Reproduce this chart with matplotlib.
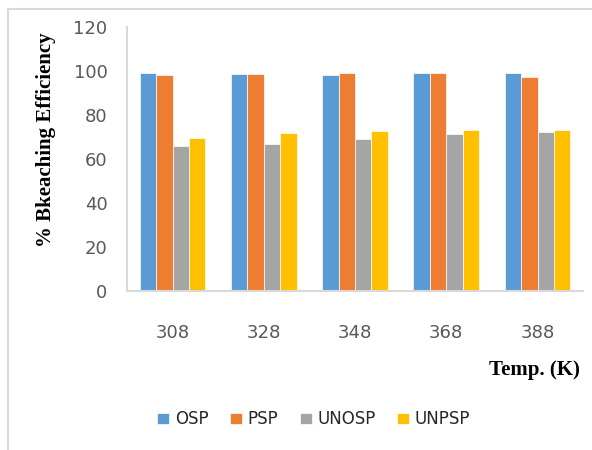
import matplotlib
matplotlib.use("Agg")
import matplotlib.pyplot as plt
import numpy as np
from matplotlib.lines import Line2D

# Bleaching efficiency (%) by temperature for each sample
temps = ["308", "328", "348", "368", "388"]
osp = [99.0, 98.6, 98.3, 99.2, 99.1]
psp = [98.2, 98.5, 99.0, 99.2, 97.3]
unosp = [65.9, 66.7, 69.0, 71.2, 72.3]
unpsp = [69.7, 71.8, 72.6, 73.0, 73.3]

series = [("OSP", osp, "#5b9bd5"),
          ("PSP", psp, "#ed7d31"),
          ("UNOSP", unosp, "#a5a5a5"),
          ("UNPSP", unpsp, "#ffc000")]

fig = plt.figure(figsize=(5.92, 4.5), dpi=100)
ax = fig.add_axes([0.2145, 0.3533, 0.7705, 0.5867])

x = np.arange(len(temps))
width = 0.18
for i, (name, vals, col) in enumerate(series):
    ax.bar(x + (i - 1.5) * width, vals, width, color=col, label=name,
           edgecolor="white", linewidth=0.5)

ax.set_xlim(-0.5, len(temps) - 0.5)
ax.set_ylim(0, 120)
ax.set_yticks(np.arange(0, 121, 20))
ax.set_xticks(x)
ax.set_xticklabels(temps)
ax.tick_params(axis="both", length=0, colors="#595959", labelsize=13)
ax.tick_params(axis="x", pad=24)
ax.tick_params(axis="y", pad=14)

for s in ["top", "right"]:
    ax.spines[s].set_visible(False)
for s in ["left", "bottom"]:
    ax.spines[s].set_color("#d9d9d9")
    ax.spines[s].set_linewidth(1.5)

fig.text(0.078, 0.689, "% Bkeaching Efficiency", rotation=90, ha="center",
         va="center", family="Liberation Serif", fontweight="bold",
         fontsize=15, color="black")
fig.text(0.98, 0.178, "Temp. (K)", ha="right", va="center",
         family="Liberation Serif", fontweight="bold", fontsize=15,
         color="black")

leg = fig.legend(loc="center", bbox_to_anchor=(0.53, 0.068), ncol=4,
                 frameon=False, fontsize=12, handlelength=0.7,
                 handleheight=0.7, handletextpad=0.35, columnspacing=1.3)
for t in leg.get_texts():
    t.set_color("#262626")

# chart frame (left and top edges)
fig.add_artist(Line2D([0.013, 0.013], [0.0, 0.979], transform=fig.transFigure,
                      color="#d9d9d9", linewidth=1.5))
fig.add_artist(Line2D([0.013, 1.0], [0.979, 0.979], transform=fig.transFigure,
                      color="#d9d9d9", linewidth=1.5))

fig.savefig("out.png", dpi=100, facecolor="white")
